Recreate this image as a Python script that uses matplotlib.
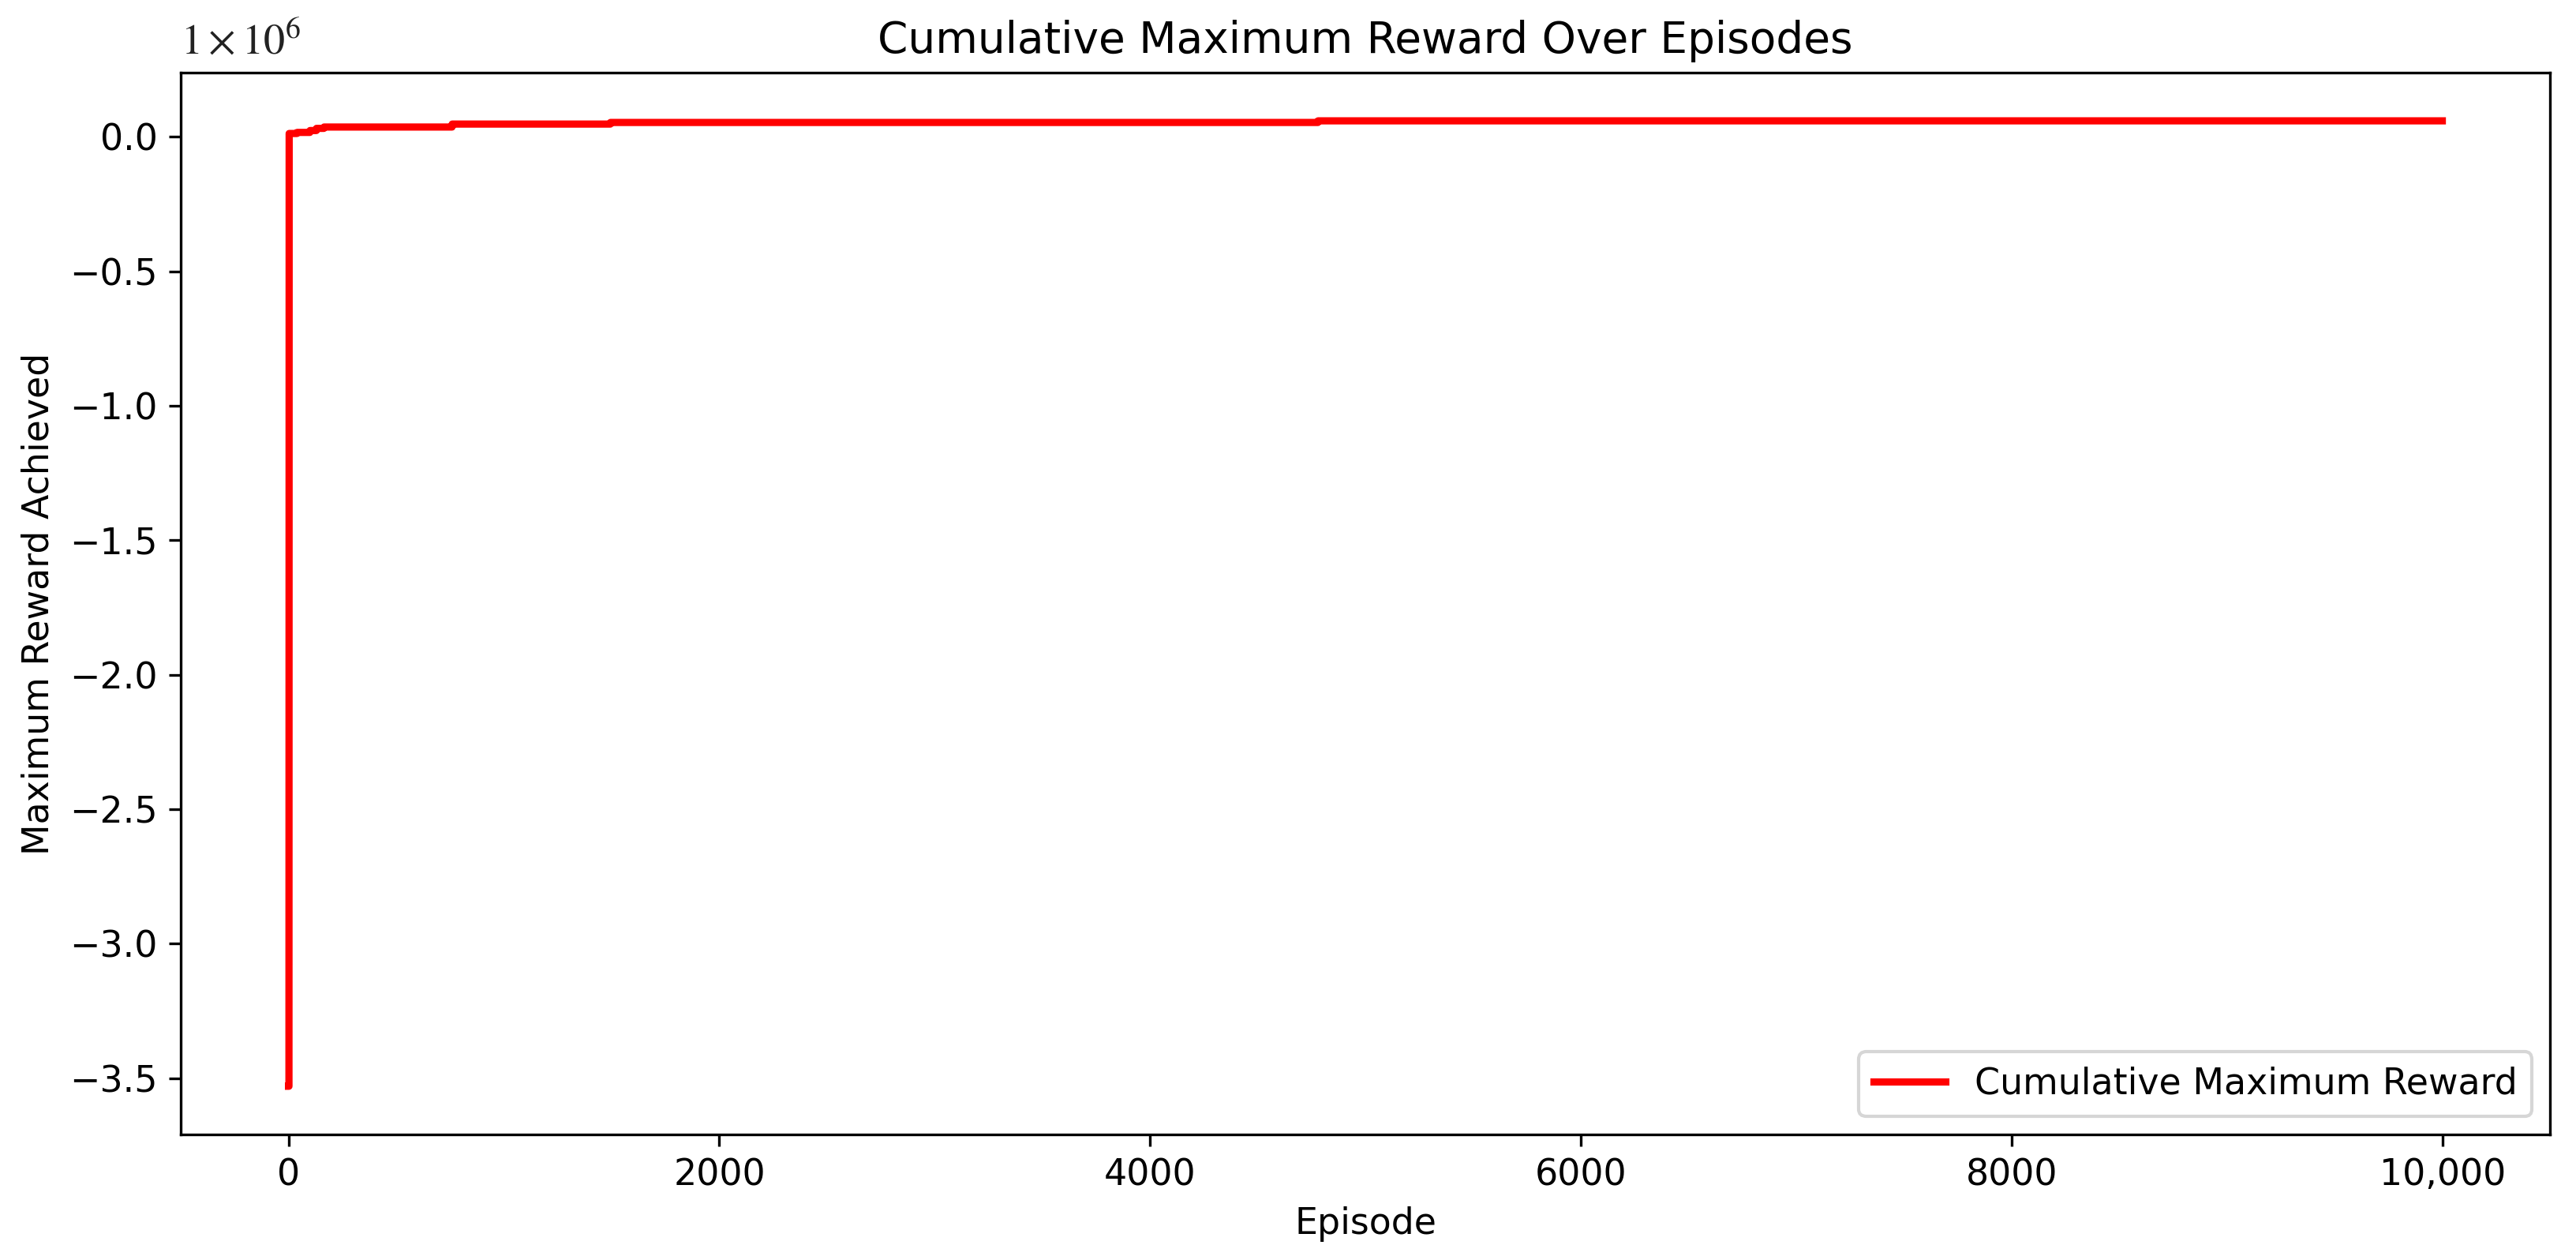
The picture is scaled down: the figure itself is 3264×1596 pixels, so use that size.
import matplotlib
matplotlib.use('Agg')
import matplotlib.pyplot as plt
from matplotlib.ticker import FixedLocator, FixedFormatter
import numpy as np

# Episodes where a new maximum reward was reached, and the new maximum
step_episodes = [0, 3, 40, 100, 130, 165, 760, 1495, 4780]
step_rewards = [-3530000, 12000, 16000, 23000, 31000, 36000, 47000, 53000, 59000]
n_episodes = 10000

xticks = [0, 2000, 4000, 6000, 8000, 10000]
xtick_labels = ['0', '2000', '4000', '6000', '8000', '10,000']
yticks = [-3.5e6, -3.0e6, -2.5e6, -2.0e6, -1.5e6, -1.0e6, -0.5e6, 0.0]
ytick_labels = ['\u22123.5', '\u22123.0', '\u22122.5', '\u22122.0', '\u22121.5',
                '\u22121.0', '\u22120.5', '0.0']

# build the cumulative max curve (one value per episode)
episodes = np.arange(n_episodes)
reward = np.full(n_episodes, float(step_rewards[0]))
for ep, r in zip(step_episodes, step_rewards):
    reward[ep:] = r

plt.rcParams['mathtext.fontset'] = 'stix'

fig = plt.figure(figsize=(10.88, 5.32), dpi=300)
ax = fig.add_axes([0.0702, 0.0996, 0.9197, 0.8428])

ax.plot(episodes, reward, color='red', linewidth=2.2, label='Cumulative Maximum Reward')

ax.xaxis.set_major_locator(FixedLocator(xticks))
ax.xaxis.set_major_formatter(FixedFormatter(xtick_labels))
ax.yaxis.set_major_locator(FixedLocator(yticks))
ax.yaxis.set_major_formatter(FixedFormatter(ytick_labels))
ax.tick_params(labelsize=11)

# scale factor shown above the y axis
ax.text(0.0, 1.01, r'$1\times10^{6}$', transform=ax.transAxes,
        fontsize=13, ha='left', va='bottom', color='#222222')

ax.set_title('Cumulative Maximum Reward Over Episodes', fontsize=13.2)
ax.set_xlabel('Episode', fontsize=11)
ax.set_ylabel('Maximum Reward Achieved', fontsize=11)
ax.legend(loc='lower right', fontsize=11)

fig.savefig('out.png', dpi=300)
